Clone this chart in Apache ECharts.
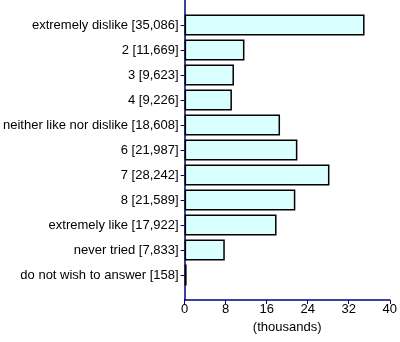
<!DOCTYPE html>
<html>
<head>
<meta charset="utf-8" />
<script src="https://cdn.jsdelivr.net/npm/echarts@6/dist/echarts.min.js"></script>
<style>
  html, body { margin: 0; padding: 0; background: #fff; }
  #chart { width: 400px; height: 342px; }
</style>
</head>
<body>
<div id="chart"></div>
<script>
const answers = [
  "extremely dislike",
  "2",
  "3",
  "4",
  "neither like nor dislike",
  "6",
  "7",
  "8",
  "extremely like",
  "never tried",
  "do not wish to answer",
];
const counts = [35086, 11669, 9623, 9226, 18608, 21987, 28242, 21589, 17922, 7833, 158];
const xTicks = { min: 0, max: 40, interval: 8 };

// empty slot at each end so the axis runs half a bar beyond the first and last answer
const labels = [""].concat(answers.map((name, i) => `${name} [${counts[i].toLocaleString("en-US")}]`), [""]);
const values = [null].concat(counts.map((c) => c / 1000), [null]);
const last = labels.length - 1;

const chart = echarts.init(document.querySelector("#chart"));
const axisColor = "#000080";
const font = "Liberation Sans, Arial, sans-serif";

chart.setOption({
  animation: false,
  grid: { left: 184.5, right: 8, top: 0, bottom: 42, containLabel: false },
  xAxis: {
    type: "value",
    min: xTicks.min,
    max: xTicks.max,
    interval: xTicks.interval,
    name: "(thousands)",
    nameLocation: "middle",
    nameGap: 21,
    nameTextStyle: { color: "#000", fontFamily: font, fontSize: 13 },
    axisLine: { show: true, lineStyle: { color: axisColor, width: 1.5 } },
    axisTick: { show: true, length: 4, lineStyle: { color: axisColor } },
    axisLabel: { color: "#000", fontFamily: font, fontSize: 13, margin: 3 },
    splitLine: { show: false },
  },
  yAxis: {
    type: "category",
    inverse: true,
    boundaryGap: false,
    data: labels,
    axisLine: { show: true, lineStyle: { color: axisColor, width: 1.5 } },
    axisTick: {
      show: true,
      length: 4,
      interval: (i) => i > 0 && i < last,
      lineStyle: { color: axisColor },
    },
    axisLabel: {
      interval: 0,
      color: "#000",
      fontFamily: font,
      fontSize: 13,
      margin: 6,
    },
  },
  series: [
    {
      type: "bar",
      data: values,
      barWidth: 21,
      barMinHeight: 2,
      itemStyle: { color: "#d9ffff", borderColor: "#000", borderWidth: 1.5 },
    },
  ],
});
</script>
</body>
</html>
